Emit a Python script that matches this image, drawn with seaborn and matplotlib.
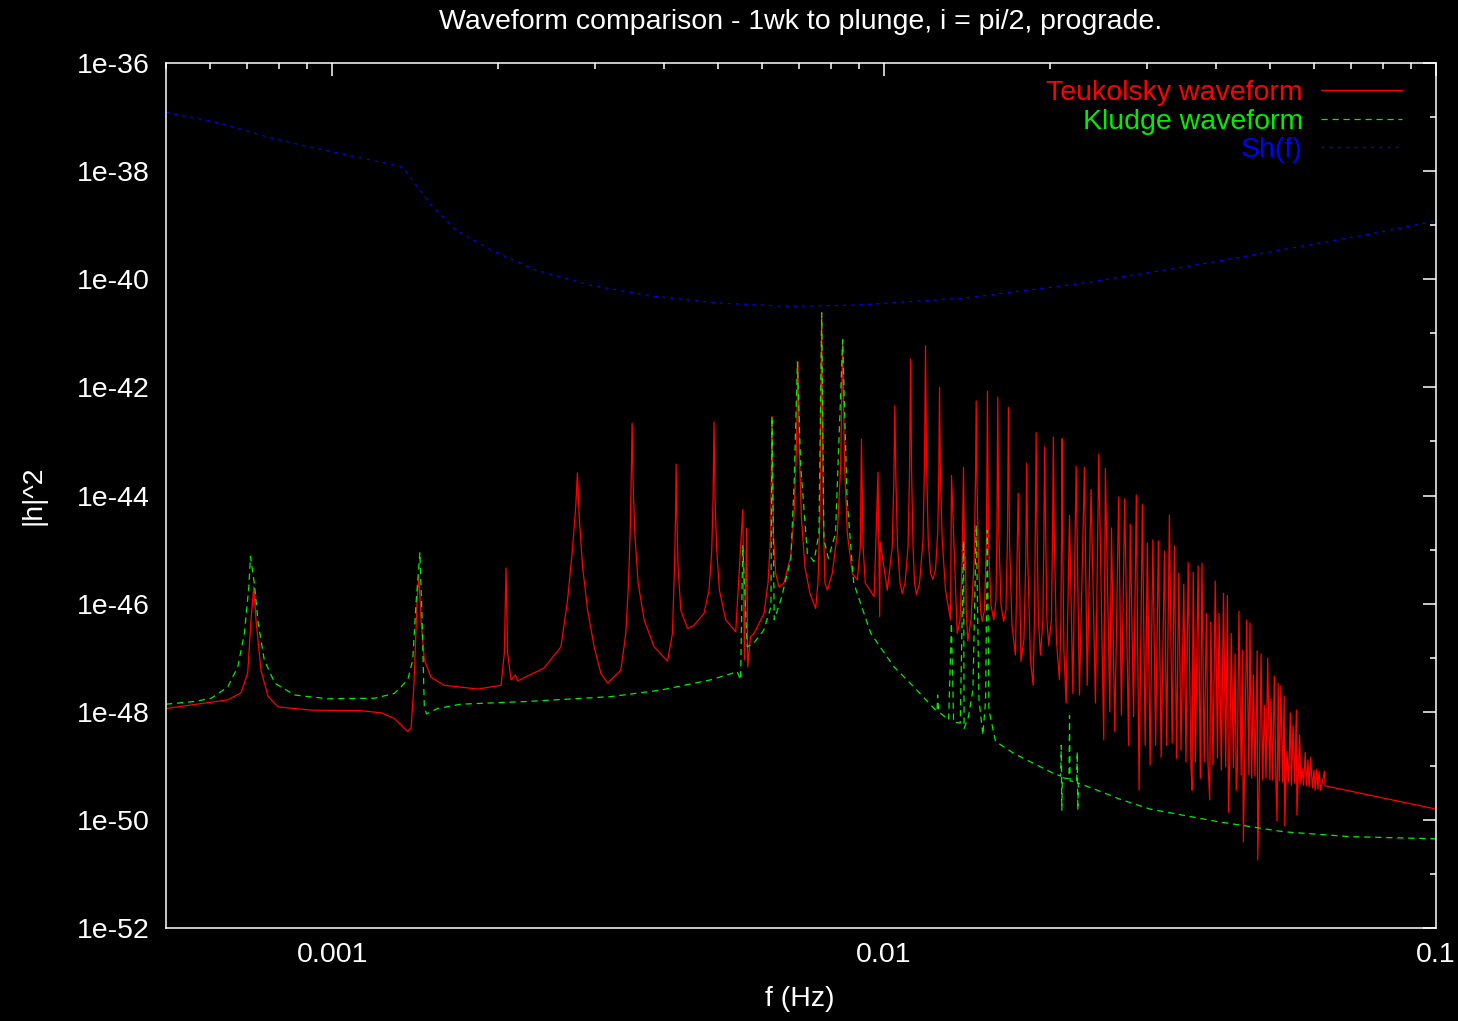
import numpy as np
import pandas as pd
import matplotlib
matplotlib.use("Agg")
import matplotlib.pyplot as plt
import matplotlib.ticker as mticker
import seaborn as sns

# ---------------- data (log10 f [Hz], log10 |h|^2) ----------------
teuk_logf = [
    -3.301, -3.189, -3.165, -3.153, -3.147, -3.142, -3.138, -3.129, -3.116, -3.098,
    -3.038, -2.948, -2.911, -2.888, -2.870, -2.863, -2.857, -2.852, -2.846, -2.843,
    -2.839, -2.833, -2.821, -2.797, -2.736, -2.694, -2.688, -2.685, -2.682, -2.676,
    -2.668, -2.664,
    -2.616, -2.5855, -2.5734, -2.5647, -2.5587, -2.5556, -2.5524, -2.5462, -2.5372, -2.5252, -2.5131, -2.5010,
    -2.4769, -2.4679, -2.4630, -2.4601, -2.4583, -2.4565, -2.4547, -2.4516, -2.4456, -2.4347, -2.4166, -2.3924,
    -2.3834, -2.3797, -2.3779, -2.3768, -2.3754, -2.3732, -2.3683, -2.3562,
    -2.3443, -2.3262, -2.3171, -2.3122, -2.3099, -2.3081, -2.3062, -2.3032, -2.2983, -2.2869, -2.2688,
    -2.256, -2.253, -2.249, -2.247, -2.242,
    -2.2356, -2.2175, -2.2103, -2.2054, -2.2030, -2.2005, -2.1964, -2.1904,
    -2.1814, -2.1692, -2.1633, -2.1589, -2.1560, -2.1535, -2.1499, -2.1434, -2.1343, -2.1240,
    -2.1198, -2.1162, -2.1131, -2.1100, -2.1072, -2.1028,
    -2.0938, -2.0847, -2.0787, -2.0751, -2.0715, -2.0666, -2.0576, -2.0485,
    -2.043, -2.041, -2.038, -2.034, -2.018, -2.011, -2.008, -2.007,
    -1.9942, -1.9852, -1.9823, -1.9805, -1.9786, -1.9756, -1.9710, -1.9671,
    -1.9620, -1.9566, -1.9538, -1.9520, -1.9502, -1.9475, -1.9448, -1.9412,
    -1.9357, -1.9294, -1.9267, -1.9249, -1.9231, -1.9200, -1.9158, -1.9117,
    -1.9068, -1.9026, -1.9008, -1.8995, -1.8981, -1.8947, -1.8887, -1.8796, -1.8778, -1.8675,
    -1.8624, -1.8585, -1.8561, -1.8540, -1.8525, -1.8512, -1.8483,
    -1.8425, -1.8367, -1.8344, -1.8331, -1.8317, -1.8290, -1.8253, -1.8223,
    -1.8181, -1.8145, -1.8127, -1.8109, -1.8063, -1.8013,
    -1.7973, -1.7955, -1.7940, -1.7922, -1.7882, -1.7832,
    -1.7792, -1.7765, -1.7747, -1.7728, -1.7683, -1.7620,
    -1.757, -1.752,
    -1.7466, -1.7433, -1.7415, -1.7397, -1.7348, -1.7299,
    -1.7276, -1.7258, -1.7245, -1.7231, -1.7204, -1.7167,
    -1.7122, -1.7104, -1.7090, -1.7073, -1.7050, -1.7017,
    -1.6968, -1.6947, -1.6932, -1.6918, -1.6878, -1.6823,
    -1.6796, -1.6784, -1.6775, -1.6765, -1.6742, -1.6702,
    -1.664, -1.658, -1.652,
    -1.646, -1.637, -1.632, -1.625, -1.617, -1.611, -1.602, -1.599, -1.591, -1.588,
    -1.582, -1.575, -1.570, -1.564, -1.557, -1.554, -1.548, -1.543, -1.538, -1.532,
    -1.527, -1.523, -1.518, -1.513, -1.508, -1.503, -1.498, -1.492, -1.488, -1.483,
    -1.478, -1.474, -1.470, -1.466, -1.462, -1.457, -1.453, -1.449, -1.444, -1.442,
    -1.440, -1.436, -1.431, -1.427, -1.424, -1.420, -1.416, -1.413, -1.410, -1.408,
    -1.404, -1.400, -1.396, -1.393, -1.389, -1.385, -1.381, -1.378, -1.376, -1.374,
    -1.371, -1.367, -1.364, -1.362, -1.360, -1.357, -1.353, -1.351, -1.349, -1.347,
    -1.343, -1.339, -1.337, -1.334, -1.331, -1.328, -1.324, -1.323, -1.320, -1.317,
    -1.314, -1.311, -1.308, -1.305, -1.301, -1.299, -1.296, -1.293, -1.290, -1.288,
    -1.286, -1.284, -1.281, -1.278, -1.275, -1.274, -1.272, -1.270, -1.267, -1.264,
    -1.262, -1.259, -1.256, -1.253, -1.252, -1.250, -1.247, -1.245, -1.242, -1.240,
    -1.237, -1.235, -1.232, -1.230, -1.227, -1.224, -1.221, -1.219, -1.216, -1.214,
    -1.212, -1.209, -1.202, -1.201, -1.000]
teuk_logh = [
    -47.94, -47.78, -47.65, -47.28, -46.30, -45.69, -46.30, -47.23, -47.72, -47.91,
    -47.97, -47.98, -48.02, -48.12, -48.30, -48.36, -48.30, -47.54, -45.93, -45.47,
    -46.30, -47.04, -47.36, -47.51, -47.58, -47.51, -46.91, -45.34, -46.91, -47.41,
    -47.32, -47.43,
    -47.19, -46.80, -45.93, -45.01, -44.21, -43.58, -44.39, -45.32, -46.12, -46.80, -47.29, -47.47,
    -47.23, -46.55, -45.62, -44.70, -43.77, -42.66, -43.77, -44.70, -45.62, -46.30, -46.80, -47.06,
    -46.55, -45.32, -44.39, -43.42, -44.39, -45.32, -46.12, -46.46,
    -46.40, -46.18, -45.75, -45.01, -44.08, -42.64, -44.08, -45.01, -45.75, -46.30, -46.52,
    -44.26, -47.04, -44.61, -47.17, -46.61,
    -46.55, -46.18, -45.62, -44.70, -42.54, -44.70, -45.44, -45.69,
    -45.62, -45.13, -44.39, -43.16, -41.53, -43.16, -44.39, -45.32, -45.81, -46.09,
    -45.62, -44.39, -40.66, -44.39, -45.62, -45.75,
    -45.44, -44.70, -43.47, -41.12, -43.47, -44.70, -45.44, -45.56,
    -44.95, -42.96, -44.95, -45.62, -45.87, -43.57, -46.24, -44.86,
    -45.75, -44.95, -43.71, -42.34, -43.71, -44.95, -45.62, -45.81,
    -45.62, -44.95, -43.53, -41.48, -43.53, -44.95, -45.62, -45.83,
    -45.62, -44.82, -43.34, -41.23, -43.34, -44.82, -45.43, -45.55,
    -45.38, -44.64, -43.53, -42.00, -43.53, -44.82, -45.75, -46.30, -43.63, -46.55,
    -46.30, -45.19, -43.48, -45.38, -45.13, -46.12, -46.69,
    -46.30, -45.19, -43.71, -42.25, -43.71, -45.19, -46.12, -46.33,
    -46.12, -44.82, -42.07, -44.82, -46.03, -46.30,
    -45.93, -44.64, -42.18, -44.64, -46.03, -46.33,
    -46.12, -44.82, -42.37, -44.82, -46.40, -46.95,
    -43.96, -47.07,
    -46.67, -45.19, -43.40, -45.19, -47.04, -47.51,
    -46.30, -44.45, -42.84, -44.45, -46.30, -46.95,
    -46.30, -44.64, -43.10, -44.64, -46.30, -46.77,
    -46.30, -44.64, -42.92, -44.64, -46.67, -47.41,
    -46.30, -44.64, -42.95, -44.64, -46.86, -47.84,
    -44.37, -47.66, -43.46,
    -47.69, -43.48, -47.51, -43.89, -47.84, -43.24, -48.52, -43.50, -48.00, -44.60,
    -48.37, -44.03, -48.06, -44.06, -48.62, -44.53, -48.09, -43.99, -49.45, -44.17,
    -48.62, -44.88, -48.99, -44.82, -48.62, -44.84, -48.84, -45.03, -48.62, -44.36,
    -48.58, -44.93, -48.86, -45.44, -48.71, -45.64, -48.93, -45.24, -48.99, -49.45,
    -45.42, -48.93, -45.30, -49.23, -45.25, -48.93, -46.18, -48.99, -49.63, -46.34,
    -48.99, -45.58, -48.86, -46.18, -49.08, -45.81, -49.02, -45.85, -49.86, -49.08,
    -46.55, -49.04, -46.93, -49.45, -49.08, -46.14, -49.17, -46.86, -50.41, -49.17,
    -46.30, -49.17, -46.36, -49.23, -47.32, -49.19, -46.87, -50.74, -49.23, -46.93,
    -49.26, -47.88, -49.23, -47.01, -49.26, -47.76, -49.26, -47.34, -49.30, -50.02,
    -47.47, -49.28, -47.52, -49.30, -47.71, -50.11, -49.30, -48.73, -49.30, -48.02,
    -49.36, -48.26, -49.32, -47.97, -49.91, -49.34, -48.43, -49.34, -49.06, -49.36,
    -48.75, -49.37, -48.89, -49.39, -48.84, -49.41, -49.08, -49.45, -49.06, -49.43,
    -49.10, -49.45, -49.10, -49.37, -49.80]

kludge_logf = [
    -3.301, -3.249, -3.219, -3.189, -3.171, -3.159, -3.151, -3.148, -3.141, -3.134,
    -3.123, -3.104, -3.068, -3.008, -2.923, -2.887, -2.863, -2.854, -2.848, -2.841,
    -2.837, -2.833, -2.829, -2.809, -2.767, -2.646, -2.495, -2.405, -2.314, -2.266,
    -2.260, -2.256, -2.248, -2.236, -2.218, -2.205, -2.203, -2.199, -2.187, -2.169,
    -2.163, -2.157, -2.151, -2.139, -2.127, -2.118, -2.113, -2.109, -2.101, -2.088,
    -2.075, -2.067, -2.055, -2.024, -1.982, -1.946, -1.904, -1.903, -1.901, -1.883,
    -1.878, -1.874, -1.862, -1.856, -1.855, -1.847, -1.839, -1.833, -1.828, -1.821,
    -1.816, -1.813, -1.810, -1.798, -1.765, -1.693, -1.680, -1.679, -1.678, -1.677,
    -1.665, -1.664, -1.663, -1.651, -1.650, -1.649, -1.648, -1.614, -1.572, -1.518,
    -1.397, -1.276, -1.156, -1.000]
kludge_logh = [
    -47.86, -47.81, -47.75, -47.54, -47.17, -46.55, -45.69, -45.13, -45.62, -46.36,
    -47.04, -47.47, -47.69, -47.76, -47.75, -47.66, -47.41, -47.04, -45.99, -45.05,
    -46.30, -47.91, -48.04, -47.94, -47.86, -47.81, -47.72, -47.60, -47.41, -47.26,
    -47.41, -44.92, -46.80, -46.73, -46.49, -46.06, -42.54, -46.30, -45.93, -45.19,
    -43.77, -41.53, -43.47, -45.07, -45.22, -44.70, -40.62, -44.82, -45.16, -44.70,
    -41.12, -44.08, -45.62, -46.55, -47.17, -47.54, -48.00, -47.69, -48.00, -48.15,
    -46.36, -48.19, -48.21, -44.84, -48.31, -48.09, -47.60, -44.55, -47.78, -48.43,
    -47.78, -44.64, -47.97, -48.55, -48.77, -49.14, -49.19, -48.62, -49.82, -49.22,
    -49.24, -48.07, -49.28, -49.30, -48.74, -49.82, -49.32, -49.45, -49.62, -49.80,
    -50.03, -50.22, -50.31, -50.35]

sh_logf = [-3.301, -3.205, -3.116, -3.043, -2.955, -2.873, -2.865, -2.824, -2.776,
           -2.712, -2.631, -2.533, -2.421, -2.300, -2.178, -2.051, -1.856, -1.652,
           -1.448, -1.243, -1.107, -1.000]
sh_logh = [-36.91, -37.11, -37.37, -37.55, -37.74, -37.92, -38.02, -38.59, -39.09,
           -39.46, -39.83, -40.11, -40.31, -40.44, -40.50, -40.48, -40.35, -40.09,
           -39.76, -39.39, -39.14, -38.92]

series_names = ["Teukolsky waveform", "Kludge waveform", "Sh(f)"]
series_colors = ["#ff0000", "#00ee00", "#0000ff"]

xtick_values = [1e-3, 1e-2, 1e-1]
xtick_labels = ["0.001", "0.01", "0.1"]
ytick_exponents = [-36, -38, -40, -42, -44, -46, -48, -50, -52]
ytick_labels = ["1e-36", "1e-38", "1e-40", "1e-42", "1e-44", "1e-46", "1e-48", "1e-50", "1e-52"]
yminor_exponents = [-37, -39, -41, -43, -45, -47, -49, -51]

title_text = "Waveform comparison - 1wk to plunge, i = pi/2, prograde."
xlabel_text = "f (Hz)"
ylabel_text = "|h|^2"

# ---------------- styling ----------------
sns.set_theme(style="dark")
plt.rcParams["font.family"] = ["Liberation Sans", "DejaVu Sans"]
FS = 20.5

fig = plt.figure(figsize=(14.58, 10.21), dpi=100, facecolor="black")
ax = fig.add_axes([166 / 1458, 1 - 928 / 1021, 1270 / 1458, 865 / 1021])
ax.set_facecolor("black")

frames = [
    pd.DataFrame({"f": np.power(10.0, teuk_logf), "h": np.power(10.0, teuk_logh)}),
    pd.DataFrame({"f": np.power(10.0, kludge_logf), "h": np.power(10.0, kludge_logh)}),
    pd.DataFrame({"f": np.power(10.0, sh_logf), "h": np.power(10.0, sh_logh)}),
]
dash_patterns = [None, (5.0, 3.8), (2.6, 4.0)]
handles = []
for df, name, col, dsh in zip(frames, series_names, series_colors, dash_patterns):
    sns.lineplot(data=df, x="f", y="h", ax=ax, color=col, lw=0.9,
                 estimator=None, sort=False, label=name, legend=False)
    ln = ax.lines[-1]
    if dsh is not None:
        ln.set_dashes(dsh)
    handles.append(ln)

ax.set_xscale("log")
ax.set_yscale("log")
ax.set_xlim(5e-4, 1e-1)
ax.set_ylim(1e-52, 1e-36)

ax.xaxis.set_major_locator(mticker.FixedLocator(xtick_values))
ax.xaxis.set_major_formatter(mticker.FixedFormatter(xtick_labels))
ax.xaxis.set_minor_locator(mticker.LogLocator(base=10, subs=np.arange(2, 10)))
ax.xaxis.set_minor_formatter(mticker.NullFormatter())

ax.yaxis.set_major_locator(mticker.FixedLocator([10.0 ** e for e in ytick_exponents]))
ax.yaxis.set_major_formatter(mticker.FixedFormatter(ytick_labels))
ax.yaxis.set_minor_locator(mticker.FixedLocator([10.0 ** e for e in yminor_exponents]))
ax.yaxis.set_minor_formatter(mticker.NullFormatter())

ax.tick_params(which="both", direction="in", top=True, right=True,
               colors="white", labelcolor="white", labelsize=FS, width=1.1)
ax.tick_params(which="major", length=9.4)
ax.tick_params(which="minor", length=4.3)
ax.tick_params(axis="y", pad=12)
ax.tick_params(axis="x", pad=10)
ax.grid(False)
for sp in ax.spines.values():
    sp.set_color("white")
    sp.set_linewidth(1.1)
    sp.set_visible(True)

ax.set_xlabel(xlabel_text, color="white", fontsize=FS)
ax.set_ylabel(ylabel_text, color="white", fontsize=FS)
ax.xaxis.set_label_coords(0.499, -0.067)
ax.yaxis.set_label_coords(-0.094, 0.5)

fig.text(801 / 1458, 1 - 22 / 1021, title_text, color="white", fontsize=FS,
         ha="center", va="center")

leg = ax.legend(handles=handles, labels=series_names, loc="upper right",
                bbox_to_anchor=(0.9732, 0.980), frameon=False, markerfirst=False,
                labelcolor="linecolor", fontsize=FS, handlelength=2.85,
                handletextpad=0.63, labelspacing=0.09, borderpad=0, borderaxespad=0)

fig.savefig("out.png", dpi=100, facecolor="black")
